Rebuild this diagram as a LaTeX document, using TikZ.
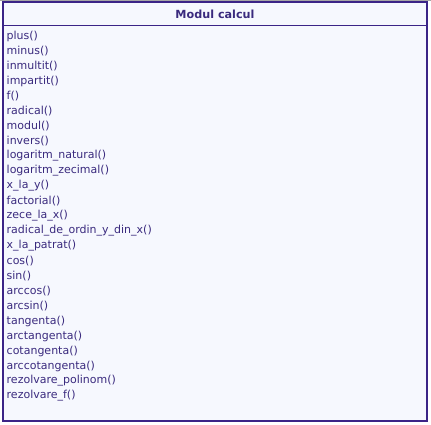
\documentclass[tikz,border=0pt]{standalone}
\usepackage{fontspec}
\setmainfont{DejaVu Sans}
\definecolor{umlborder}{HTML}{3B2487}
\definecolor{umltext}{HTML}{3A2A7E}
\definecolor{umlbg}{HTML}{F6F8FE}
\begin{document}
\begin{tikzpicture}[x=1pt,y=-1pt,
  item/.style={anchor=west,inner sep=0pt,text=umltext,font=\fontsize{11}{12}\selectfont},
  title/.style={inner sep=0pt,text=umltext,font=\bfseries\fontsize{11.2}{12}\selectfont}]
\useasboundingbox (0,0) rectangle (431,424);
\fill[white] (0,0) rectangle (431,424);
\draw[gray!70,line width=1pt] (0,0.5) -- (431,0.5);
\fill[umlbg] (3,2) rectangle (427,421);
\draw[umlborder,line width=1.2pt] (3,2) rectangle (427,421);
\draw[umlborder,line width=1pt] (3,25) -- (427,25);
\node[title] (t) at (215,14) {Modul calcul};
\foreach \name [count=\i from 0] in {plus(),minus(),inmultit(),impartit(),f(),radical(),modul(),invers(),logaritm\_natural(),logaritm\_zecimal(),x\_la\_y(),factorial(),zece\_la\_x(),radical\_de\_ordin\_y\_din\_x(),x\_la\_patrat(),cos(),sin(),arccos(),arcsin(),tangenta(),arctangenta(),cotangenta(),arccotangenta(),rezolvare\_polinom(),rezolvare\_f()}
  \node[item] (m\i) at (6.5,{36+15*\i}) {\name};
\end{tikzpicture}
\end{document}
